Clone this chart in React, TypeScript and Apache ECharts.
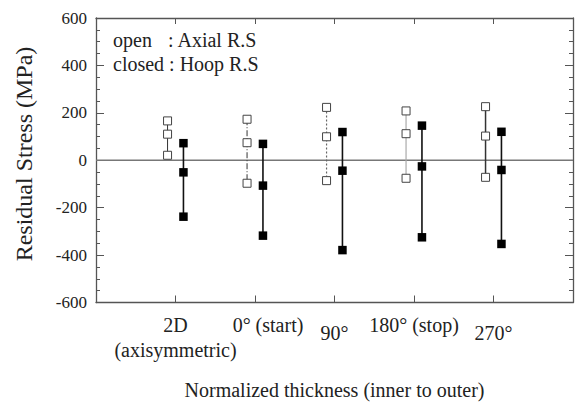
import React, { useEffect, useRef } from "react";
import * as echarts from "echarts";

// ---- data ----
const categories = ["2D\n(axisymmetric)", "0° (start)", "90°", "180° (stop)", "270°"];
const groupX = [1, 2, 3, 4, 5];
// open squares: Axial residual stress (MPa), three points per location
const axialValues = [
  [166, 110, 21],
  [173, 74, -97],
  [223, 99, -86],
  [208, 112, -76],
  [226, 102, -72],
];
// closed squares: Hoop residual stress (MPa)
const hoopValues = [
  [72, -51, -238],
  [69, -107, -318],
  [119, -44, -379],
  [146, -26, -325],
  [120, -41, -353],
];
const yMin = -600;
const yMax = 600;
const yStep = 200;
const xMin = 0;
const xMax = 6;
const openOffset = -0.1;
const closedOffset = 0.1;
const zeroLine = [
  [xMin, 0],
  [xMax, 0],
];

// ---- styles ----
const FONT = "Liberation Serif";
const TXT = "#222";
const AX = "#555";
const labelKeys = ["a", "s", "d", "a", "d"];
const openLineStyles: any[] = [
  { type: "solid", color: "#333", width: 1 },
  { type: [6, 2, 1, 2], color: "#333", width: 1 },
  { type: [2, 2], color: "#666", width: 1.2 },
  { type: "solid", color: "#aaa", width: 1.2 },
  { type: "solid", color: "#333", width: 1.5 },
];

export default function App() {
  const ref = useRef<HTMLDivElement>(null);
  useEffect(() => {
    if (!ref.current) return;
    const chart = echarts.init(ref.current, undefined, { renderer: "svg" });
    const base = { fontFamily: FONT, fontSize: 20, lineHeight: 25, color: TXT };
    const series: any[] = [
      {
        type: "line",
        data: zeroLine,
        symbol: "none",
        lineStyle: { color: "#777", width: 1.5 },
        z: 1,
        silent: true,
      },
    ];
    groupX.forEach((gx, i) => {
      series.push({
        type: "line",
        data: axialValues[i].map((v) => [gx + openOffset, v]),
        symbol: "rect",
        symbolSize: 8,
        itemStyle: { color: "#fff", borderColor: "#444", borderWidth: 1 },
        lineStyle: openLineStyles[i],
        z: 3,
      });
      series.push({
        type: "line",
        data: hoopValues[i].map((v) => [gx + closedOffset, v]),
        symbol: "rect",
        symbolSize: 8.5,
        itemStyle: { color: "#000", borderColor: "#000", borderWidth: 0 },
        lineStyle: { color: "#111", width: 1.6, type: "solid" },
        z: 3,
      });
    });

    const axisLineStyle = { onZero: false, show: true, lineStyle: { color: AX, width: 1.3 } };

    chart.setOption({
      animation: false,
      backgroundColor: "#fff",
      textStyle: { fontFamily: FONT },
      grid: { left: 96, right: 3, top: 18, bottom: 102.5, containLabel: false },
      xAxis: [
        {
          type: "value",
          min: xMin,
          max: xMax,
          interval: 1,
          position: "bottom",
          splitLine: { show: false },
          axisLine: axisLineStyle,
          axisTick: { inside: true, length: 7, lineStyle: { color: AX, width: 1 } },
          axisLabel: {
            margin: 10,
            showMinLabel: false,
            showMaxLabel: false,
            fontFamily: FONT,
            formatter: (v: number) => {
              const i = groupX.indexOf(v);
              if (i < 0) return "";
              return categories[i]
                .split("\n")
                .map((l) => `{${labelKeys[i]}|${l}}`)
                .join("\n");
            },
            rich: {
              a: { ...base },
              s: { ...base, padding: [0, 0, 0, 26] },
              d: { ...base, padding: [16, 0, 0, 0] },
            },
          },
          name: "Normalized thickness (inner to outer)",
          nameLocation: "middle",
          nameGap: 77,
          nameTextStyle: { fontFamily: FONT, fontSize: 20, color: TXT },
        },
        {
          type: "value",
          min: xMin,
          max: xMax,
          interval: 1,
          position: "top",
          splitLine: { show: false },
          axisLine: axisLineStyle,
          axisTick: { inside: true, length: 6, lineStyle: { color: AX, width: 1 } },
          axisLabel: { show: false },
        },
      ],
      yAxis: [
        {
          type: "value",
          min: yMin,
          max: yMax,
          interval: yStep,
          position: "left",
          splitLine: { show: false },
          axisLine: axisLineStyle,
          axisTick: { show: true, inside: true, length: 8, lineStyle: { color: AX, width: 1 } },
          minorTick: { show: true, splitNumber: 4, length: 4, lineStyle: { color: AX, width: 1 } },
          axisLabel: {
            margin: 9,
            showMinLabel: true,
            showMaxLabel: true,
            fontFamily: FONT,
            fontSize: 17,
            color: TXT,
          },
        },
        {
          type: "value",
          min: yMin,
          max: yMax,
          interval: yStep,
          position: "right",
          splitLine: { show: false },
          axisLine: axisLineStyle,
          axisTick: { show: true, inside: true, length: 8, lineStyle: { color: AX, width: 1 } },
          minorTick: { show: true, splitNumber: 4, length: 4, lineStyle: { color: AX, width: 1 } },
          axisLabel: { show: false },
        },
      ],
      series,
      graphic: [
        {
          type: "text",
          x: 24,
          y: 154,
          rotation: Math.PI / 2,
          style: {
            text: "Residual Stress (MPa)",
            fontFamily: FONT,
            fontSize: 24,
            fill: TXT,
            align: "center",
            verticalAlign: "middle",
          },
        },
        {
          type: "text",
          x: 113,
          y: 40,
          style: { text: "open", fontFamily: FONT, fontSize: 20, fill: TXT, verticalAlign: "middle" },
        },
        {
          type: "text",
          x: 168,
          y: 40,
          style: { text: ": Axial R.S", fontFamily: FONT, fontSize: 20, fill: TXT, verticalAlign: "middle" },
        },
        {
          type: "text",
          x: 113,
          y: 64,
          style: { text: "closed : Hoop R.S", fontFamily: FONT, fontSize: 20, fill: TXT, verticalAlign: "middle" },
        },
      ],
    });
    return () => chart.dispose();
  }, []);
  return <div ref={ref} style={{ width: 576, height: 405, position: "fixed", left: 0, top: 0 }} />;
}
